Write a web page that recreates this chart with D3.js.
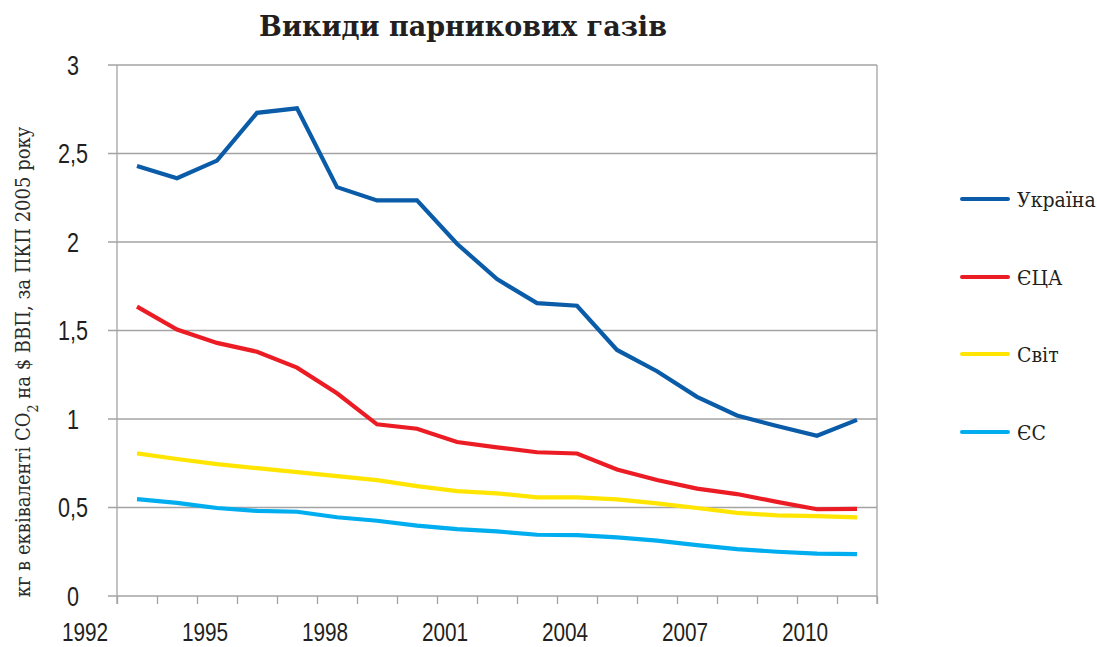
<!DOCTYPE html>
<html>
<head>
<meta charset="utf-8">
<script src="https://cdn.jsdelivr.net/npm/d3@7"></script>
<style>
  body { margin: 0; background: #fff; }
  svg { display: block; }
</style>
</head>
<body>
<script>
// years on the category axis
var years = [1993, 1994, 1995, 1996, 1997, 1998, 1999, 2000, 2001, 2002,
             2003, 2004, 2005, 2006, 2007, 2008, 2009, 2010, 2011];

var ukraine = [2.43, 2.36, 2.46, 2.73, 2.755, 2.31, 2.235, 2.235, 1.99, 1.79,
               1.655, 1.64, 1.39, 1.27, 1.125, 1.02, 0.96, 0.905, 0.995];
var usa     = [1.635, 1.505, 1.43, 1.38, 1.29, 1.145, 0.97, 0.945, 0.87, 0.84,
               0.812, 0.805, 0.715, 0.655, 0.607, 0.576, 0.532, 0.49, 0.492];
var world   = [0.806, 0.774, 0.745, 0.722, 0.70, 0.677, 0.655, 0.621, 0.593, 0.58,
               0.557, 0.557, 0.546, 0.523, 0.497, 0.47, 0.455, 0.451, 0.444];
var eu      = [0.547, 0.526, 0.497, 0.481, 0.476, 0.445, 0.425, 0.398, 0.378, 0.365,
               0.346, 0.344, 0.331, 0.313, 0.287, 0.265, 0.25, 0.239, 0.237];

var seriesNames  = ["Україна", "ЄЦА", "Світ", "ЄС"];
var seriesColors = ["#0a5ca8", "#ec1c24", "#ffe500", "#00adef"];
var seriesData   = [ukraine, usa, world, eu];

var yTicks = [0, 0.5, 1, 1.5, 2, 2.5, 3];
var xLabels = [1992, 1995, 1998, 2001, 2004, 2007, 2010];

var W = 1097, H = 647;
var plotL = 117, plotR = 877, plotT = 65, plotB = 596;

var svg = d3.select("body").append("svg")
    .attr("width", W)
    .attr("height", H);

var x = d3.scaleLinear().domain([1992.5, 2011.5]).range([plotL, plotR]);
var y = d3.scaleLinear().domain([0, 3]).range([plotB, plotT]);

var tickFont = "'Liberation Sans', Arial, sans-serif";
var serifFont = "'DejaVu Serif Condensed', 'DejaVu Serif', serif";
var gridColor = "#a3a3a3";

// title
svg.append("text")
    .attr("x", 463)
    .attr("y", 36)
    .attr("text-anchor", "middle")
    .style("font-family", "'DejaVu Serif', 'Liberation Serif', serif")
    .style("font-weight", "bold")
    .style("font-size", "27px")
    .style("fill", "#231f20")
    .text("Викиди парникових газів");

// horizontal grid
svg.append("g").selectAll("line")
    .data(yTicks)
    .enter().append("line")
    .attr("x1", plotL - 9)
    .attr("x2", plotR)
    .attr("y1", function(d) { return y(d); })
    .attr("y2", function(d) { return y(d); })
    .attr("stroke", gridColor)
    .attr("stroke-width", 1.3);

// left axis line, right border
svg.append("line")
    .attr("x1", plotL).attr("x2", plotL)
    .attr("y1", plotT).attr("y2", plotB + 8)
    .attr("stroke", gridColor).attr("stroke-width", 1.3);
svg.append("line")
    .attr("x1", plotR).attr("x2", plotR)
    .attr("y1", plotT).attr("y2", plotB + 8)
    .attr("stroke", gridColor).attr("stroke-width", 1.3);

// x ticks at category boundaries
var bounds = d3.range(1992.5, 2012, 1);
var xAxis = svg.append("g")
    .attr("transform", "translate(0," + plotB + ")")
    .call(d3.axisBottom(x).tickValues(bounds).tickSize(8).tickSizeOuter(0).tickFormat(""));
xAxis.select(".domain").remove();
xAxis.selectAll("line").attr("stroke", gridColor).attr("stroke-width", 1.3);

// y tick labels (narrow sans)
svg.append("g").selectAll("text")
    .data(yTicks)
    .enter().append("text")
    .attr("transform", function(d) { return "translate(73," + y(d) + ") scale(0.8,1)"; })
    .attr("dy", "0.36em")
    .attr("text-anchor", "middle")
    .style("font-family", tickFont)
    .style("font-size", "27px")
    .style("fill", "#231f20")
    .text(function(d) { return String(d).replace(".", ","); });

// x tick labels
svg.append("g").selectAll("text")
    .data(xLabels)
    .enter().append("text")
    .attr("transform", function(d) { return "translate(" + (x(d) - 12) + ",641) scale(0.8,1)"; })
    .attr("text-anchor", "middle")
    .style("font-family", tickFont)
    .style("font-size", "26px")
    .style("fill", "#231f20")
    .text(function(d) { return d; });

// y axis title
var yt = svg.append("text")
    .attr("transform", "translate(30,362) rotate(-90)")
    .attr("text-anchor", "middle")
    .style("font-family", serifFont)
    .style("font-size", "20px")
    .style("fill", "#2b2b2b");
yt.append("tspan").text("кг в еквіваленті CO");
yt.append("tspan").attr("baseline-shift", "sub").style("font-size", "14px").text("2");
yt.append("tspan").text(" на $ ВВП, за ПКП 2005 року");

// lines
var line = d3.line()
    .x(function(d, i) { return x(years[i]); })
    .y(function(d) { return y(d); });

var order = [3, 2, 1, 0];
order.forEach(function(k) {
    svg.append("path")
        .datum(seriesData[k])
        .attr("d", line)
        .attr("fill", "none")
        .attr("stroke", seriesColors[k])
        .attr("stroke-width", 4.2)
        .attr("stroke-linejoin", "miter");
});

// legend
var legendY = [199, 277, 354, 432];
var lg = svg.append("g").selectAll("g")
    .data(seriesNames)
    .enter().append("g")
    .attr("transform", function(d, i) { return "translate(962," + legendY[i] + ")"; });
lg.append("line")
    .attr("x1", 0).attr("x2", 46)
    .attr("stroke", function(d, i) { return seriesColors[i]; })
    .attr("stroke-width", 4)
    .attr("stroke-linecap", "round");
lg.append("text")
    .attr("x", 55)
    .attr("dy", "0.36em")
    .style("font-family", serifFont)
    .style("font-size", "21px")
    .style("fill", "#231f20")
    .text(function(d) { return d; });
</script>
</body>
</html>
